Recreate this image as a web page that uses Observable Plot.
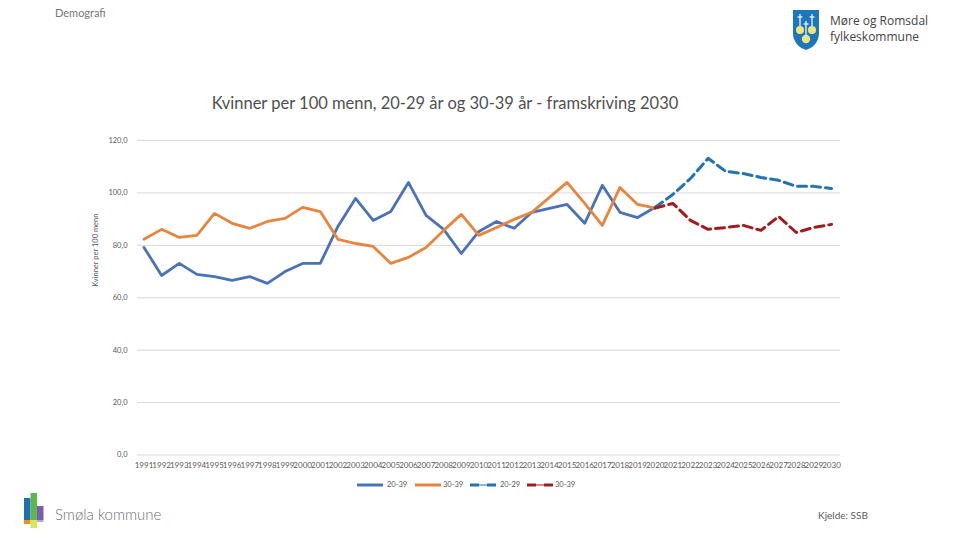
<!DOCTYPE html>
<html>
<head>
<meta charset="utf-8">
<script src="https://cdn.jsdelivr.net/npm/d3@7"></script>
<script src="https://cdn.jsdelivr.net/npm/@observablehq/plot@0.6"></script>
<style>
  html, body { margin: 0; padding: 0; background: #fff; }
  #page { position: relative; width: 960px; height: 540px; overflow: hidden; font-family: Lato, "Open Sans", sans-serif; color: #595959; }
  .abs { position: absolute; white-space: nowrap; }
  #chart { position: absolute; left: 0; top: 120px; }
  .leg { position: absolute; top: 480px; font-size: 7.5px; color: #595959; line-height: 10px; }
</style>
</head>
<body>
<div id="page">
  <div class="abs" style="left:55px; top:6px; font-size:11px; color:#777;">Demografi</div>

  <svg class="abs" style="left:792px; top:9px;" width="28" height="42" viewBox="0 0 28 42">
    <path d="M1,1 H27 V24 C27,34 20,39 14,41 C8,39 1,34 1,24 Z" fill="#1b76bc"/>
    <circle cx="8" cy="21" r="4" fill="#f4e27a"/>
    <circle cx="20" cy="21" r="4" fill="#f4e27a"/>
    <circle cx="14" cy="30" r="4.2" fill="#f4e27a"/>
    <g stroke="#fff" stroke-width="1.2">
      <line x1="8" y1="5" x2="8" y2="17"/><line x1="5.5" y1="8" x2="10.5" y2="8"/>
      <line x1="20" y1="5" x2="20" y2="17"/><line x1="17.5" y1="8" x2="22.5" y2="8"/>
      <line x1="14" y1="12" x2="14" y2="26"/><line x1="11.5" y1="15" x2="16.5" y2="15"/>
    </g>
  </svg>
  <div class="abs" style="left:830px; top:13px; font-size:12px; color:#444; line-height:16px; font-family:'Open Sans', sans-serif;">Møre og Romsdal</div>
  <div class="abs" style="left:830px; top:29px; font-size:12px; color:#444; line-height:16px; font-family:'Open Sans', sans-serif;">fylkeskommune</div>

  <div class="abs" id="title" style="left:0; width:890px; text-align:center; top:93px; font-size:16.5px; color:#505050;">Kvinner per 100 menn, 20-29 år og 30-39 år - framskriving 2030</div>

  <div id="chart"></div>

  <div id="legend"></div>

  <svg class="abs" style="left:24px; top:493px;" width="20" height="36">
    <rect x="0" y="5" width="6.5" height="22" fill="#1f6fb5"/>
    <rect x="6.5" y="0" width="6.5" height="27" fill="#5cb84d"/>
    <rect x="13" y="13" width="6.5" height="14" fill="#7b5ea7"/>
    <rect x="0" y="27" width="6.5" height="4" fill="#f28c28"/>
    <rect x="6.5" y="27" width="6.5" height="8" fill="#d6e85a"/>
    <rect x="13" y="27" width="6.5" height="2" fill="#b9a6d6"/>
  </svg>
  <div class="abs" style="left:55px; top:505px; font-size:15px; color:#6f6f6f; font-weight:300;">Smøla kommune</div>
  <div class="abs" style="left:818px; top:509px; font-size:10px; color:#595959;">Kjelde: SSB</div>
</div>
<script>
const years = d3.range(1991, 2031);
const histYears = d3.range(1991, 2021);
const projYears = d3.range(2020, 2031);

const hist2029 = [79.2, 68.5, 73.1, 68.9, 68.1, 66.6, 68.1, 65.5, 70.0, 73.1,
                  73.1, 87.2, 97.9, 89.5, 92.9, 104.0, 91.4, 86.1, 76.9, 85.3,
                  89.1, 86.5, 92.6, 94.1, 95.6, 88.4, 102.9, 92.6, 90.6, 94.5];
const hist3039 = [82.3, 86.1, 83.0, 83.8, 92.2, 88.4, 86.5, 89.1, 90.3, 94.5,
                  92.9, 82.3, 80.7, 79.6, 73.1, 75.4, 79.2, 85.7, 91.8, 83.8,
                  86.8, 89.9, 92.6, 98.3, 104.0, 96.0, 87.6, 102.1, 95.6, 94.2];
const proj2029 = [94.5, 99.4, 105.5, 113.2, 108.2, 107.4, 105.9, 104.8, 102.5, 102.5, 101.7];
const proj3039 = [94.2, 96.0, 89.5, 86.1, 86.8, 87.6, 85.7, 91.0, 84.9, 86.8, 88.0];

const yTicks = [0, 20, 40, 60, 80, 100, 120];
const seriesNames = ["20-39", "30-39", "20-29", "30-39"];
const colors = ["#4a72b8", "#e8843c", "#2273b5", "#a31b1d"];

const toRows = (xs, vs) => xs.map((x, i) => ({x, y: vs[i]}));

const fmt = d => d.toFixed(1).replace(".", ",");

const chart = Plot.plot({
  width: 960,
  height: 360,
  marginLeft: 137,
  marginRight: 120,
  marginTop: 20,
  marginBottom: 25.5,
  x: {domain: [1991, 2030], insetLeft: 6.5, insetRight: 9},
  y: {domain: [0, 120]},
  style: {fontFamily: "Lato, 'Open Sans', sans-serif", fontSize: "7px", color: "#595959", background: "transparent", overflow: "visible"},
  marks: [
    Plot.ruleY(yTicks, {stroke: "#d9d9d9", strokeWidth: 1}),
    Plot.axisY({ticks: yTicks, tickSize: 0, tickPadding: 10, tickFormat: fmt, label: null, fontSize: 7.5}),
    Plot.axisX({ticks: years, tickSize: 0, tickPadding: 7, tickFormat: d => String(d), label: null, fontSize: 8}),
    Plot.text(["Kvinner per 100 menn"], {frameAnchor: "left", dx: -42, dy: -11, rotate: -90, fontSize: 7.5, fill: "#595959"}),
    Plot.lineY(toRows(histYears, hist2029), {x: "x", y: "y", stroke: colors[0], strokeWidth: 2.8, strokeLinejoin: "round"}),
    Plot.lineY(toRows(histYears, hist3039), {x: "x", y: "y", stroke: colors[1], strokeWidth: 2.8, strokeLinejoin: "round"}),
    Plot.lineY(toRows(projYears, proj2029), {x: "x", y: "y", stroke: colors[2], strokeWidth: 3, strokeDasharray: "9,5", strokeLinejoin: "round"}),
    Plot.lineY(toRows(projYears, proj3039), {x: "x", y: "y", stroke: colors[3], strokeWidth: 3, strokeDasharray: "9,5", strokeLinejoin: "round"})
  ]
});
document.getElementById("chart").appendChild(chart);

// legend
const legend = document.getElementById("legend");
const swatchX = [357, 415, 470, 527];
const textX = [387, 443, 500, 555];
seriesNames.forEach((name, i) => {
  const sw = document.createElementNS("http://www.w3.org/2000/svg", "svg");
  sw.setAttribute("width", 26); sw.setAttribute("height", 6);
  sw.style.position = "absolute"; sw.style.left = swatchX[i] + "px"; sw.style.top = "482px";
  if (i < 2) {
    sw.innerHTML = `<line x1="0" y1="3" x2="26" y2="3" stroke="${colors[i]}" stroke-width="3"/>`;
  } else {
    sw.innerHTML = `<line x1="0" y1="3" x2="26" y2="3" stroke="${colors[i]}" stroke-width="1"/>
      <line x1="0" y1="3" x2="9" y2="3" stroke="${colors[i]}" stroke-width="3"/>
      <line x1="17" y1="3" x2="26" y2="3" stroke="${colors[i]}" stroke-width="3"/>`;
  }
  legend.appendChild(sw);
  const t = document.createElement("div");
  t.className = "leg"; t.style.left = textX[i] + "px"; t.textContent = name;
  legend.appendChild(t);
});
</script>
</body>
</html>
